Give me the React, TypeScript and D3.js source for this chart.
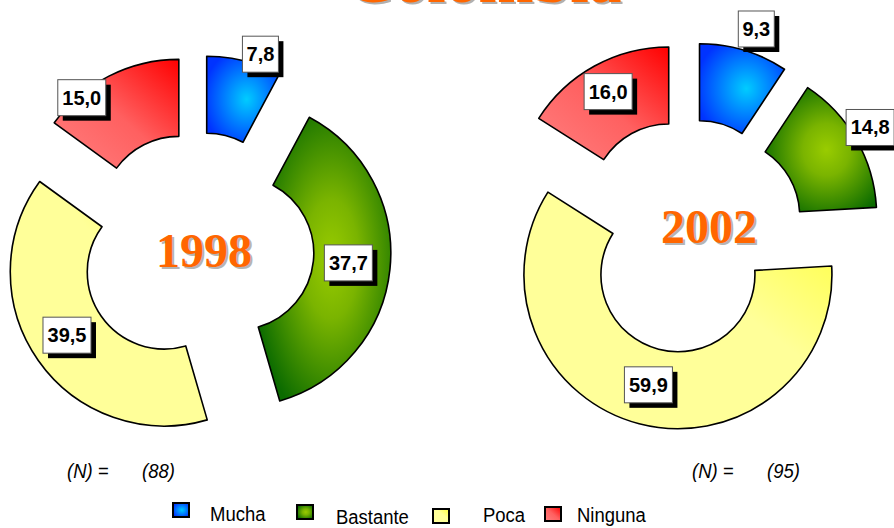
import React from 'react';
import * as d3 from 'd3';

const title = 'Colombia';
const categories = ['Mucha', 'Bastante', 'Poca', 'Ninguna'];
const years = ['1998', '2002'];
const values1998 = [7.8, 37.7, 39.5, 15.0];
const values2002 = [9.3, 14.8, 59.9, 16.0];
const sampleSizes = [88, 95];

const width = 894;
const height = 528;
const outerR = 154;
const innerR = 77;
const explode = 40;

// per chart layout: centre, year label offset, (N) x, label polar positions [deg, radius]
const charts = [
  {
    year: years[0],
    values: values1998,
    n: sampleSizes[0],
    cx: 197,
    cy: 249,
    yearDx: 7,
    yearDy: 18,
    nX: 67,
    labelPos: [[19, 165], [95, 112], [237, 116], [320, 151]],
  },
  {
    year: years[1],
    values: values2002,
    n: sampleSizes[1],
    cx: 688,
    cy: 236,
    yearDx: 21,
    yearDy: 7,
    nX: 692,
    labelPos: [[18.6, 178], [59, 172], [195, 114], [331, 125]],
  },
];

const legendPos = [
  { sx: 173, sy: 503, tx: 210, ty: 521 },
  { sx: 297, sy: 505, tx: 336, ty: 524 },
  { sx: 433, sy: 509, tx: 483, ty: 522 },
  { sx: 545, sy: 507, tx: 577, ty: 522 },
];

const fmt = (v: number) => v.toFixed(1).replace('.', ',');
const rad = (deg: number) => (deg * Math.PI) / 180;

const pie = d3
  .pie<number>()
  .sort(null)
  .value((d) => d)
  .startAngle(0)
  .endAngle(2 * Math.PI);

const arc = d3
  .arc<d3.PieArcDatum<number>>()
  .innerRadius(innerR)
  .outerRadius(outerR);

// no narrow font installed, so squeeze Liberation Sans horizontally
const sans = "'Liberation Sans', Arial, sans-serif";
const serif = "'Liberation Serif', 'Times New Roman', serif";
const squeeze = 0.88;

const Donut = ({ chart }: { chart: (typeof charts)[number] }) => {
  const arcs = pie(chart.values);
  return (
    <g transform={`translate(${chart.cx},${chart.cy})`}>
      {arcs.map((a, i) => {
        const mid = (a.startAngle + a.endAngle) / 2;
        const ox = explode * Math.sin(mid);
        const oy = -explode * Math.cos(mid);
        return (
          <g key={categories[i]} transform={`translate(${ox},${oy})`}>
            <path d={arc(a) || ''} fill={`url(#grad-${i})`} stroke="#000" strokeWidth={1.6} strokeLinejoin="round" />
          </g>
        );
      })}
      {arcs.map((a, i) => {
        const mid = (a.startAngle + a.endAngle) / 2;
        const ox = explode * Math.sin(mid);
        const oy = -explode * Math.cos(mid);
        const [deg, r] = chart.labelPos[i];
        const lx = ox + r * Math.sin(rad(deg));
        const ly = oy - r * Math.cos(rad(deg));
        const txt = fmt(chart.values[i]);
        const w = txt.length * 12;
        const h = 36;
        return (
          <g key={'l' + i} transform={`translate(${lx},${ly})`}>
            <rect x={-w / 2 + 5} y={-h / 2 + 5} width={w} height={h} fill="#000" />
            <rect x={-w / 2} y={-h / 2} width={w} height={h} fill="#fff" stroke="#555" strokeWidth={1} />
            <text y={7} textAnchor="middle" fontFamily={sans} fontWeight="bold" fontSize={20} fill="#000">
              {txt}
            </text>
          </g>
        );
      })}
      <text
        x={chart.yearDx + 2}
        y={chart.yearDy + 2}
        textAnchor="middle"
        fontFamily={serif}
        fontWeight="bold"
        fontSize={48}
        fill="#b5b5b5"
      >
        {chart.year}
      </text>
      <text
        x={chart.yearDx}
        y={chart.yearDy}
        textAnchor="middle"
        fontFamily={serif}
        fontWeight="bold"
        fontSize={48}
        fill="#ff6600"
      >
        {chart.year}
      </text>
    </g>
  );
};

export default function App() {
  return (
    <svg
      width={width}
      height={height}
      style={{ position: 'absolute', left: 0, top: 0, background: '#fff' }}
    >
      <defs>
        <radialGradient id="grad-0" cx="55%" cy="50%" r="60%">
          <stop offset="0" stopColor="#00ccff" />
          <stop offset="1" stopColor="#0033ff" />
        </radialGradient>
        <radialGradient id="grad-1" cx="55%" cy="50%" r="60%">
          <stop offset="0" stopColor="#99cc00" />
          <stop offset="0.35" stopColor="#7ab400" />
          <stop offset="1" stopColor="#0b6b00" />
        </radialGradient>
        <linearGradient id="grad-2" x1="0" y1="1" x2="1" y2="0">
          <stop offset="0" stopColor="#ffff99" />
          <stop offset="0.6" stopColor="#ffff99" />
          <stop offset="1" stopColor="#ffff33" />
        </linearGradient>
        <linearGradient id="grad-3" x1="0" y1="1" x2="1" y2="0">
          <stop offset="0" stopColor="#ff8080" />
          <stop offset="0.5" stopColor="#ff6060" />
          <stop offset="1" stopColor="#ff0000" />
        </linearGradient>
      </defs>

      <text x={486} y={4} textAnchor="middle" fontFamily={serif} fontWeight="bold" fontSize={66} fill="#b0b0b0">
        {title}
      </text>
      <text x={484} y={2} textAnchor="middle" fontFamily={serif} fontWeight="bold" fontSize={66} fill="#ff6600">
        {title}
      </text>

      {charts.map((c) => (
        <Donut key={c.year} chart={c} />
      ))}

      {charts.map((c) => (
        <g key={'n' + c.year} fontFamily={sans} fontStyle="italic" fontSize={21} fill="#000">
          <g transform={`translate(${c.nX},478) scale(${squeeze},1)`}>
            <text>(N) =</text>
          </g>
          <g transform={`translate(${c.nX + 75},478) scale(${squeeze},1)`}>
            <text>({c.n})</text>
          </g>
        </g>
      ))}

      {categories.map((cat, i) => {
        const p = legendPos[i];
        return (
          <g key={'lg' + cat}>
            <rect x={p.sx} y={p.sy} width={16} height={14} fill={`url(#grad-${i})`} stroke="#000" strokeWidth={2} />
            <g transform={`translate(${p.tx},${p.ty}) scale(${squeeze},1)`}>
              <text fontFamily={sans} fontSize={21} fill="#000">
                {cat}
              </text>
            </g>
          </g>
        );
      })}
    </svg>
  );
}
